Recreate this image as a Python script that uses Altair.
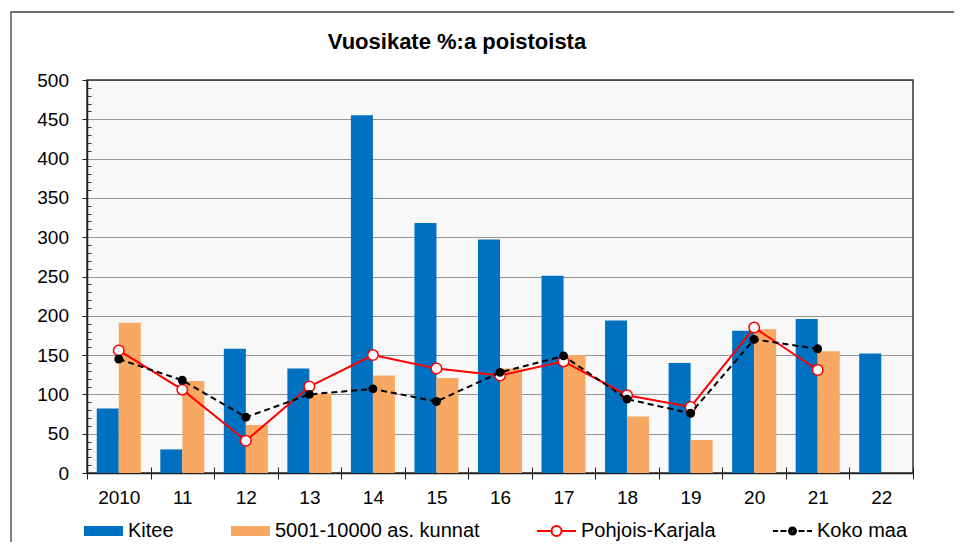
import altair as alt
import pandas as pd

FONT = "Liberation Sans"

years = ["2010", "11", "12", "13", "14", "15", "16", "17", "18", "19", "20", "21", "22"]
kitee = [82, 30, 158, 133, 455, 318, 297, 251, 194, 140, 181, 196, 152]
kunnat = [191, 117, 61, 101, 124, 121, 133, 150, 72, 42, 183, 155, None]
pohjois_karjala = [156, 106, 41, 110, 150, 133, 124, 142, 99, 84, 185, 131, None]
koko_maa = [145, 118, 71, 100, 107, 91, 128, 149, 94, 76, 170, 158, None]

series_names = ["Kitee", "5001-10000 as. kunnat", "Pohjois-Karjala", "Koko maa"]
bar_colors = ["#0070C0", "#F8A862"]
legend_stroke = ["#0070C0", "#F8A862", "#FF0000", "#000000"]
y_major = list(range(0, 501, 50))
y_minor = [v for v in range(0, 501, 10) if v % 50]

rows = []
for name, vals in zip(series_names, [kitee, kunnat, pohjois_karjala, koko_maa]):
    for yr, v in zip(years, vals):
        if v is not None:
            rows.append({"year": yr, "series": name, "value": v})
df = pd.DataFrame(rows)

ysc = alt.Scale(domain=[0, 500], nice=False)

# legend symbol shapes (stroke-only custom paths, unit = half of sqrt(symbolSize))
rect_path = "M-1,-0.4H2.9M-1,-0.2H2.9M-1,0H2.9M-1,0.2H2.9M-1,0.4H2.9"
red_path = "M-1,0H0.45M1.45,0H2.9M0.45,0A0.5,0.5,0,1,0,1.45,0A0.5,0.5,0,1,0,0.45,0Z"
blk_path = ("M-1,0H-0.5M-0.25,0H0.35M1.55,0H2.15M2.4,0H2.9"
            "M0.6,0A0.35,0.35,0,1,0,1.3,0A0.35,0.35,0,1,0,0.6,0Z"
            "M0.8,0A0.15,0.15,0,1,0,1.1,0A0.15,0.15,0,1,0,0.8,0Z")
legend_shapes = [rect_path, rect_path, red_path, blk_path]


def make_legend():
    return alt.Legend(
        title=None, orient="none", legendX=-4, legendY=440, direction="horizontal",
        columns=4, columnPadding=53, symbolSize=400, labelOffset=23, labelFontSize=20,
        labelFont=FONT, labelColor="black", labelLimit=400, padding=0, symbolStrokeWidth=2,
    )


x_axis = alt.Axis(title=None, labelAngle=0, tickBand="extent", tickSize=6, tickColor="#222",
                  domainColor="#222", domainWidth=1.5, labelFontSize=19, labelFont=FONT,
                  labelColor="black", labelPadding=9, grid=False)
x_axis_inner = alt.Axis(title=None, orient="bottom", offset=-6, labels=False, domain=False,
                        grid=False, tickBand="extent", tickSize=6, tickColor="#222")
y_axis = alt.Axis(values=y_major, title=None, grid=True, gridColor="#333", gridDash=[1, 1],
                  gridWidth=1, tickSize=5, tickColor="#222", domainColor="#222", domainWidth=1.5,
                  labelFontSize=19, labelPadding=13.5, labelFont=FONT, labelColor="black")
y_axis_minor = alt.Axis(values=y_minor, title=None, orient="left", offset=-4, labels=False,
                        domain=False, grid=False, tickSize=4, tickColor="#333")

frame = alt.Chart(alt.Data(values=[{"f": 1}])).mark_rect(
    filled=False, stroke="#404040", strokeWidth=1.3
).encode(x=alt.value(-76), x2=alt.value(2000), y=alt.value(-68), y2=alt.value(2000))

bars = alt.Chart(df).transform_filter(
    alt.FieldOneOfPredicate(field="series", oneOf=series_names[:2])
).mark_bar().encode(
    x=alt.X("year:N", sort=years, scale=alt.Scale(paddingInner=0, paddingOuter=0), axis=x_axis),
    xOffset=alt.XOffset("series:N", sort=series_names[:2],
                        scale=alt.Scale(paddingInner=0, paddingOuter=0.443)),
    y=alt.Y("value:Q", scale=ysc, axis=y_axis),
    color=alt.Color("series:N", scale=alt.Scale(domain=series_names[:2], range=bar_colors),
                    legend=None),
)

pk = alt.Chart(df).transform_filter(alt.datum.series == "Pohjois-Karjala")
pk_line = pk.mark_line(color="#FF0000", strokeWidth=2).encode(
    x=alt.X("year:N", sort=years, axis=x_axis_inner),
    y=alt.Y("value:Q", scale=ysc, axis=y_axis_minor),
)
pk_pts = pk.mark_point(shape="circle", filled=True, fill="white", stroke="#FF0000",
                       strokeWidth=1.5, size=110, opacity=1).encode(
    x=alt.X("year:N", sort=years, axis=None),
    y=alt.Y("value:Q", scale=ysc, axis=None),
)

km = alt.Chart(df).transform_filter(alt.datum.series == "Koko maa")
km_line = km.mark_line(color="#000000", strokeWidth=2, strokeDash=[6, 4]).encode(
    x=alt.X("year:N", sort=years, axis=None),
    y=alt.Y("value:Q", scale=ysc, axis=None),
)
km_pts = km.mark_point(shape="circle", filled=True, color="#000000", size=80, opacity=1).encode(
    x=alt.X("year:N", sort=years, axis=None),
    y=alt.Y("value:Q", scale=ysc, axis=None),
)

# invisible helper layer (opacity 0) that only carries the combined legend
legend_layer = alt.Chart(alt.Data(values=[{"series": n} for n in series_names])).mark_point(
    filled=False, strokeWidth=2, opacity=0
).encode(
    x=alt.value(0), y=alt.value(0),
    stroke=alt.Stroke("series:N", scale=alt.Scale(domain=series_names, range=legend_stroke),
                      legend=make_legend()),
    shape=alt.Shape("series:N", scale=alt.Scale(domain=series_names, range=legend_shapes),
                    legend=make_legend()),
)

chart = alt.layer(frame, bars, pk_line, pk_pts, km_line, km_pts, legend_layer).resolve_scale(
    y="independent"
).resolve_axis(x="independent").properties(
    width=826, height=393,
    autosize=alt.AutoSizeParams(type="none"),
    padding={"left": 79, "top": 72, "right": 41, "bottom": 69},
    background="white",
    title=alt.TitleParams(text="Vuosikate %:a poistoista", font=FONT, fontSize=22,
                          fontWeight="bold", color="black", anchor="middle", dx=-43,
                          offset=0, dy=59.5, baseline="alphabetic", frame="group"),
).configure_view(fill="#F8F8F8", stroke="#333", strokeWidth=1.5)

chart.save("out.html", embed_options={"renderer": "svg", "actions": False})
